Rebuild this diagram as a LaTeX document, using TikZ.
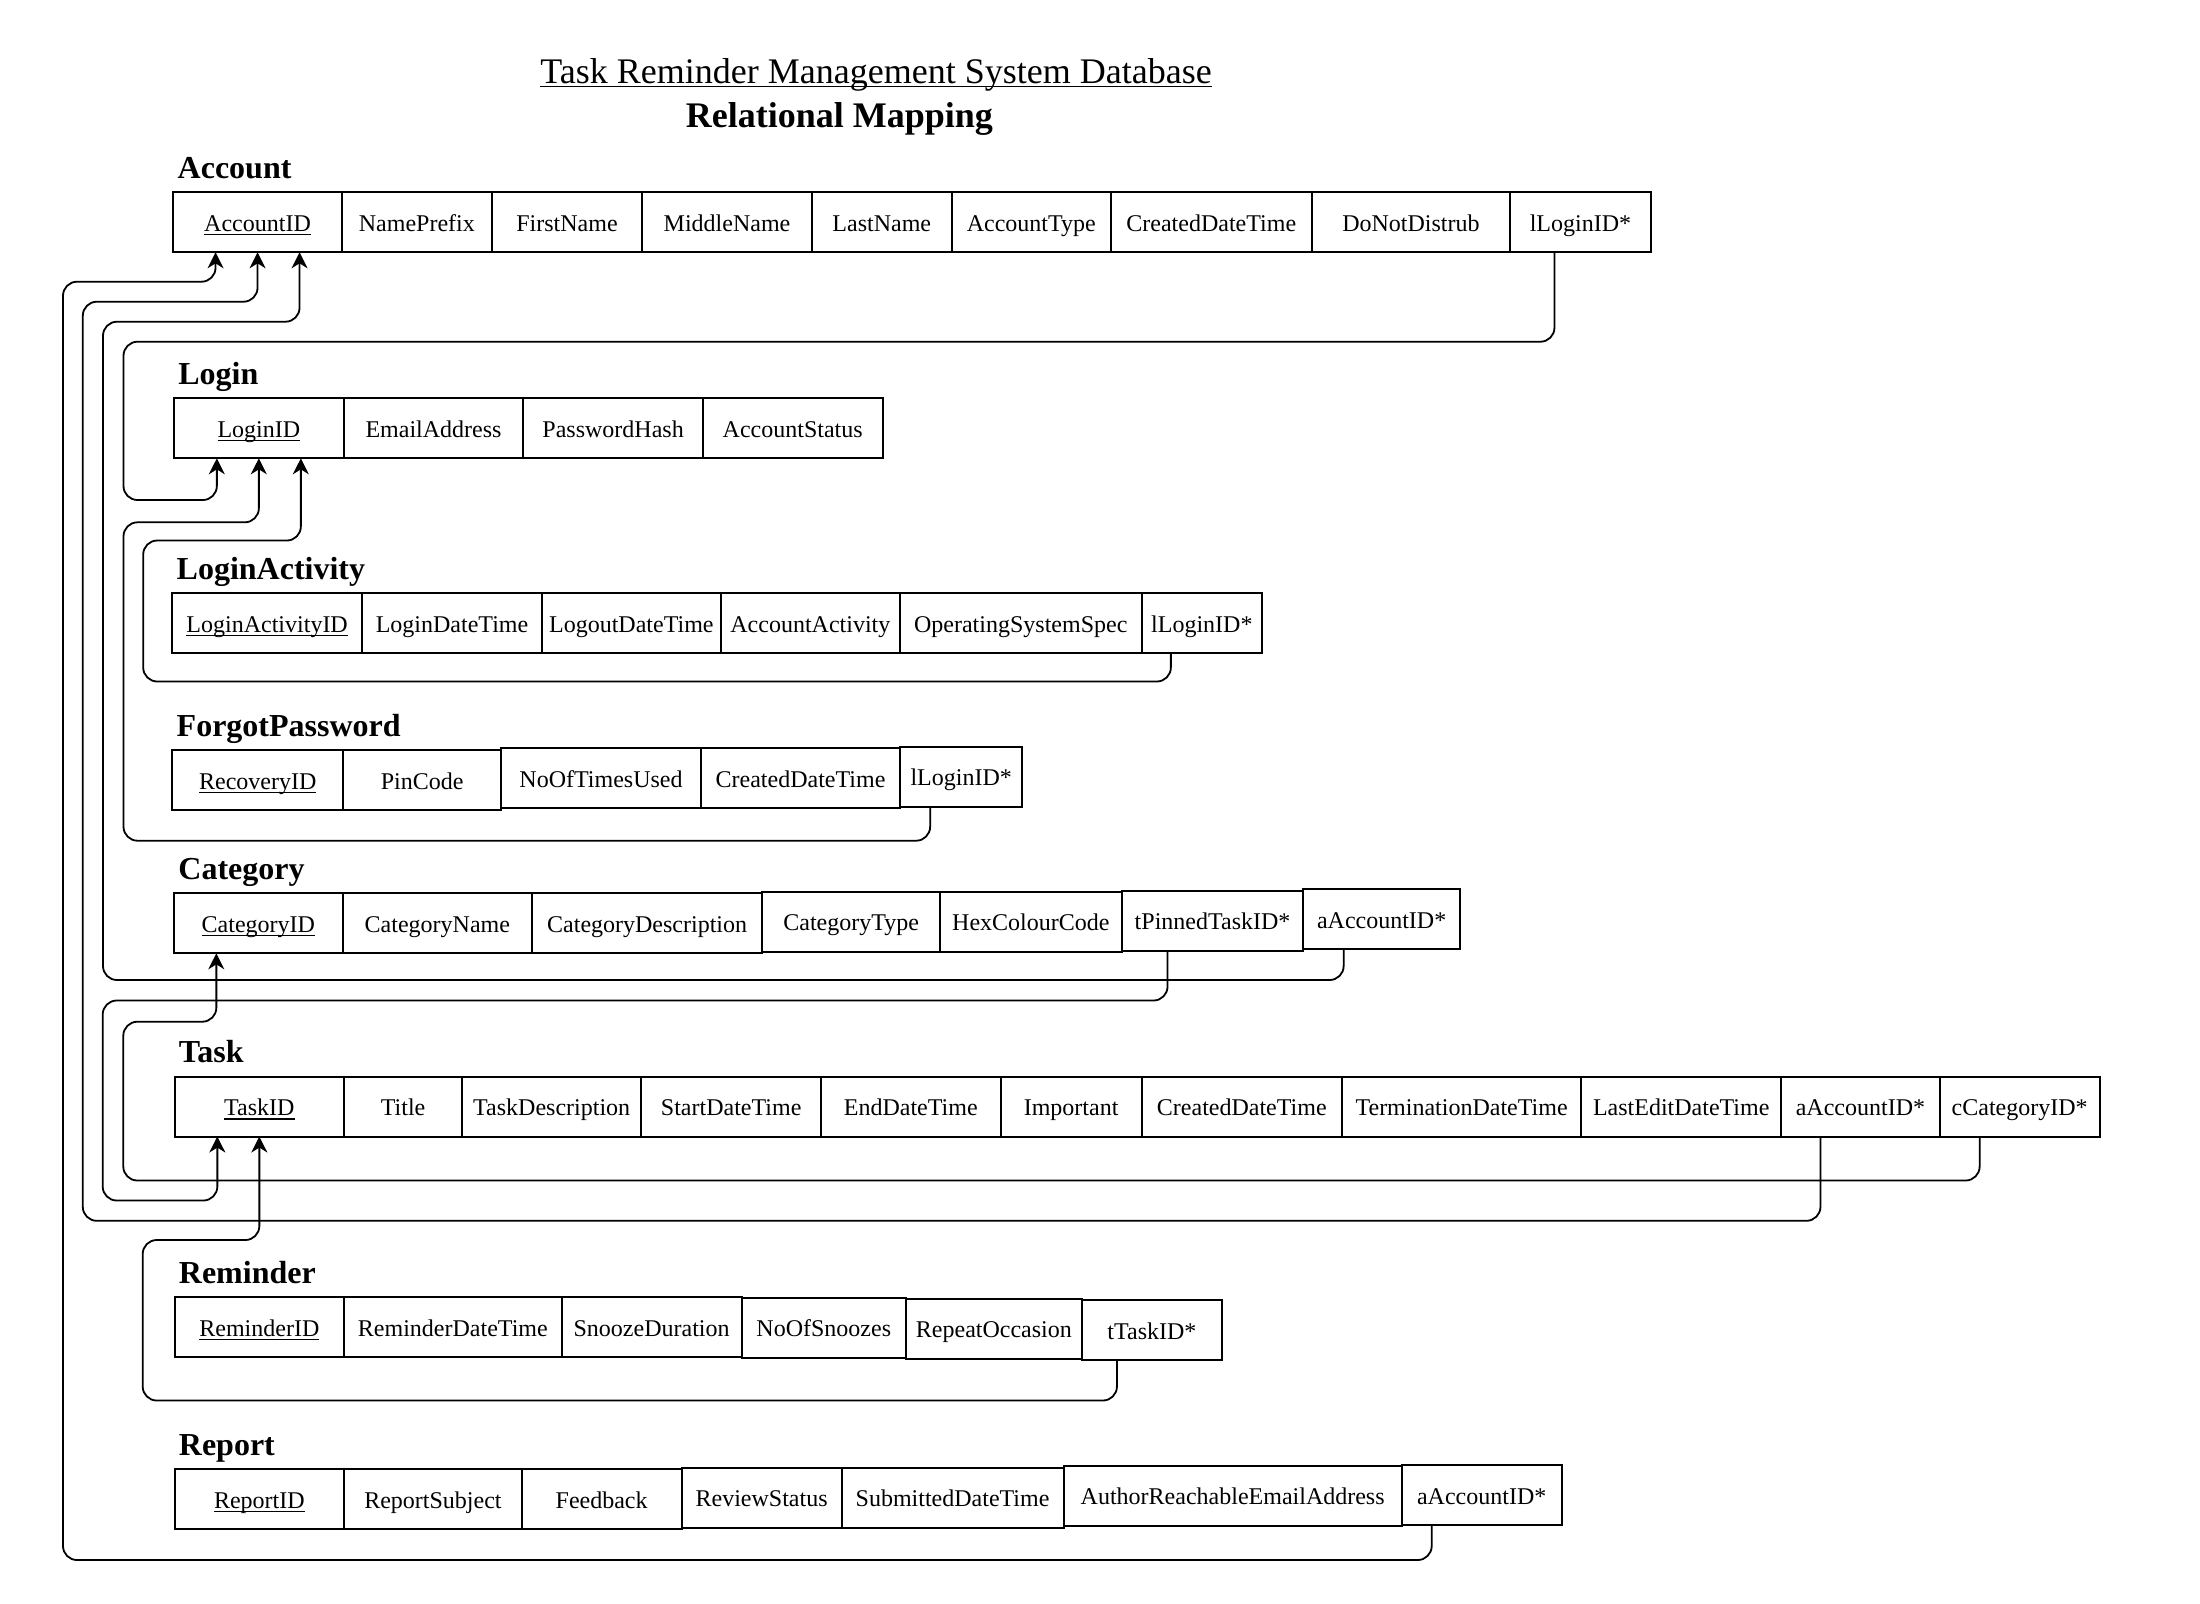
\documentclass[tikz,border=0pt]{standalone}
\usepackage{fontspec}
\setmainfont{Liberation Serif}
\usepackage{tikz}
\usetikzlibrary{arrows.meta,positioning}

\newcommand{\pkey}[1]{\setbox0\hbox{#1}\rlap{\rule[-2pt]{\wd0}{0.7pt}}\box0}
% one relation: prefix, name, top left corner, cells (width/shift/text)
\newcommand{\relrow}[4]{%
    \foreach \w/\dy/\txt [count=\i] in {#4}{%
        \ifnum\i=1\relax
            \node[cell=\w] (#1-1) at #3 {\txt};
        \else
            \pgfmathtruncatemacro{\j}{\i-1}
            \node[cell=\w] (#1-\i) at ([shift={(0,\dy)}]#1-\j.north east) {\txt};
        \fi
    }
    \node[relname] (#1-name) at ([shift={(4,-14)}]#1-1.north west) {#2};
}

\begin{document}
\begin{tikzpicture}[x=0.5pt,y=-0.5pt,
        cell/.style={draw,line width=1pt,anchor=north west,minimum width=#1*0.5pt,
                minimum height=30pt,inner sep=0pt,outer sep=0pt,
                font=\fontsize{12}{14}\selectfont,text height=9pt,text depth=0pt},
        relname/.style={anchor=base west,inner sep=0pt,font=\bfseries\fontsize{16}{19}\selectfont},
        fk/.style={line width=0.9pt,rounded corners=7pt,-{Stealth[length=8pt,width=8pt,inset=2.5pt]}}]
    \useasboundingbox (0,0) rectangle (2200,1603);
    \node[anchor=base west,inner sep=0pt,font=\fontsize{18}{21}\selectfont] (title) at (540,83.3)
    {\pkey{Task Reminder Management System Database}};
    \node[anchor=base west,inner sep=0pt,font=\bfseries\fontsize{18}{21}\selectfont] (subtitle) at (685.4,127.7)
    {Relational Mapping};
    %
    \relrow{acc}{Account}{(173.3,192.3)}{168.5/0/\pkey{AccountID}, 150.1/0/NamePrefix,
        150.2/0/FirstName, 169.8/0/MiddleName, 139.7/0/LastName, 159.4/0/AccountType,
        200.5/0/CreatedDateTime, 198.9/0/DoNotDistrub, 140.1/0/lLoginID*}
    \relrow{log}{Login}{(174,398.3)}{169.7/0/\pkey{LoginID}, 179.6/0/EmailAddress,
        179.6/0/PasswordHash, 179.6/0/AccountStatus}
    \relrow{lat}{LoginActivity}{(172.3,593.3)}{189.7/0/\pkey{LoginActivityID}, 180/0/LoginDateTime,
        178.7/0/LogoutDateTime, 179.3/0/AccountActivity, 241.5/0/OperatingSystemSpec, 120.7/0/lLoginID*}
    \relrow{fgt}{ForgotPassword}{(172.3,750)}{171/0/\pkey{RecoveryID}, 157.7/0/PinCode,
        200/-1.7/NoOfTimesUsed, 199/0/CreatedDateTime, 122.3/-1.6/lLoginID*}
    \relrow{cat}{Category}{(174,893.3)}{168.7/0/\pkey{CategoryID}, 189.3/0/CategoryName,
        230.3/0/CategoryDescription, 177.7/-1.6/CategoryType, 181.7/0/HexColourCode,
        181.7/-1/tPinnedTaskID*, 156.5/-1.4/aAccountID*}
    \relrow{tsk}{Task}{(174.5,1076.5)}{169.7/0/\pkey{TaskID}, 117.8/0/Title, 179.4/0/TaskDescription,
        179.5/0/StartDateTime, 179.7/0/EndDateTime, 141/0/Important, 200.4/0/CreatedDateTime,
        239.2/0/TerminationDateTime, 200/0/LastEditDateTime, 158.5/0/aAccountID*, 159.9/0/cCategoryID*}
    \relrow{rem}{Reminder}{(174.5,1297)}{169.7/0/\pkey{ReminderID}, 217.3/0/ReminderDateTime,
        180.2/0/SnoozeDuration, 164.2/0.6/NoOfSnoozes, 176/1/RepeatOccasion, 140.1/1.4/tTaskID*}
    \relrow{rep}{Report}{(174.5,1469)}{169.7/0/\pkey{ReportID}, 177.4/0/ReportSubject, 160.1/0/Feedback,
        159.8/-1.5/ReviewStatus, 222.1/0/SubmittedDateTime, 338.1/-1.7/AuthorReachableEmailAddress,
        160/-0.7/aAccountID*}
    %
    \draw[fk] ([xshift=-13pt]acc-9.south) |- (123.5,341.7) -- (123.5,500) -| ([xshift=-21pt]log-1.south);
    \draw[fk] ([xshift=-15.5pt]fgt-5.south) |- (123.5,840.7) -- (123.5,522.3) -| (log-1.south);
    \draw[fk] ([xshift=-15.5pt]lat-6.south) |- (143.2,681.5) -- (143.2,540.5) -| ([xshift=21pt]log-1.south);
    \draw[fk] ([xshift=-19pt]cat-7.south) |- (103,980) -- (103,321.7) -| ([xshift=21pt]acc-1.south);
    \draw[fk] ([xshift=-20pt]tsk-10.south) |- (82.8,1220.8) -- (82.8,301.7) -| (acc-1.south);
    \draw[fk] ([xshift=-25pt]rep-7.south) |- (63,1560) -- (63,281.7) -| ([xshift=-21pt]acc-1.south);
    \draw[fk] ([xshift=-22.5pt]cat-6.south) |- (102.7,1000.5) -- (102.7,1200.5) -| ([xshift=-21pt]tsk-1.south);
    \draw[fk] ([xshift=-20pt]tsk-11.south) |- (123.3,1180.5) -- (123.3,1021.7) -| ([xshift=-21pt]cat-1.south);
    \draw[fk] ([xshift=-17.5pt]rem-6.south) |- (142.7,1400.5) -- (142.7,1240) -| (tsk-1.south);
\end{tikzpicture}
\end{document}
